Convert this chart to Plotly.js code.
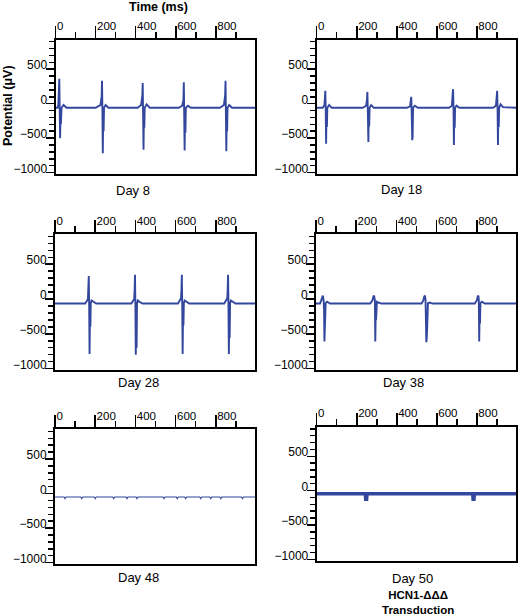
<!DOCTYPE html>
<html>
<head>
<meta charset="utf-8">
<script src="https://cdn.plot.ly/plotly-3.0.1.min.js"></script>
<style>html,body{margin:0;padding:0;background:#fff;}#chart{width:519px;height:616px;}</style>
</head>
<body>
<div id="chart"></div>
<script>
// ---- data (time in ms, potential in µV) ----
var day8_t = [0,10,14,17,19,21,23,25,27,30,40,55,
  200,224,230,232,234,236,238,240,242,250,264,
  410,427,433,435,437,439,441,443,445,455,470,
  615,632,638,640,642,644,646,648,650,660,675,
  820,840,846,848,850,852,854,856,858,866,880,995];
var day8_v = [-60,-60,-20,150,360,-100,-500,-150,-300,-60,-20,-60,
  -60,-20,100,330,-100,-720,-150,-400,-60,-20,-60,
  -60,-20,120,300,-100,-670,-150,-350,-60,-10,-60,
  -60,-30,50,310,-100,-680,-150,-420,-60,-30,-60,
  -60,-20,120,330,-100,-690,-150,-400,-60,-20,-60,-60];

var day18_t = [0,30,39,41,43,45,47,49,51,53,62,75,
  230,247,251,253,255,258,260,262,264,272,285,
  450,466,470,472,474,475,477,479,481,490,505,
  660,675,679,681,683,685,687,689,691,698,712,
  880,895,899,901,903,905,907,909,911,918,930,995];
var day18_v = [-60,-60,-20,120,185,-80,-580,-150,-340,-60,-20,-60,
  -60,-30,60,170,-80,-555,-150,-330,-60,-20,-60,
  -60,-40,20,100,-100,-500,-530,-480,-60,-30,-60,
  -60,-30,150,210,-80,-600,-150,-350,-60,-30,-60,
  -60,-30,120,185,-80,-600,-150,-340,-60,-10,-50,-60];

var day28_t = [0,150,160,164,166,168,170,172,174,176,178,182,190,205,
  380,390,394,396,398,400,402,404,406,408,412,420,435,
  612,623,627,629,631,633,635,637,639,641,645,653,668,
  842,853,857,859,861,863,865,867,869,871,875,883,898,995];
var day28_v = [-65,-65,-20,0,170,330,-100,-790,-200,-400,-60,-20,-40,-65,
  -65,-20,0,120,350,-100,-800,-200,-700,-60,-20,-40,-65,
  -65,-20,10,120,350,-100,-790,-200,-380,-60,-20,-40,-65,
  -65,-20,10,130,350,-100,-790,-200,-560,-60,-20,-40,-65,-65];

var day38_t = [0,20,26,30,34,38,40,42,44,46,48,55,70,
  270,281,285,289,293,295,297,299,301,303,310,325,
  525,534,538,542,545,547,549,551,553,555,557,565,580,
  790,800,804,808,810,812,814,816,818,825,840,995];
var day38_v = [-65,-65,-20,30,50,-20,-150,-610,-200,-350,-60,-40,-65,
  -65,-20,30,50,-20,-610,-200,-300,-60,-40,-50,-65,
  -65,-20,30,50,-20,-450,-620,-560,-420,-300,-60,-50,-65,
  -65,-20,30,50,-20,-610,-200,-350,-60,-40,-65,-65];

var day48_t = [0,45,50,55,128,133,138,195,200,205,287,292,297,353,358,363,
  403,408,413,537,542,547,603,608,613,645,650,655,720,725,730,
  770,775,780,820,825,830,928,933,938,995];
var day48_v = [-50,-50,-75,-50,-50,-75,-50,-50,-75,-50,-50,-75,-50,-50,-75,-50,
  -50,-75,-50,-50,-75,-50,-50,-75,-50,-50,-75,-50,-50,-75,-50,
  -50,-75,-50,-50,-75,-50,-50,-75,-50,-50];

var day50_t = [0,243,245,249,251,779,781,785,787,995];
var day50_v = [-45,-45,-125,-125,-45,-45,-125,-125,-45,-45];

var captions = ['Day 8','Day 18','Day 28','Day 38','Day 48','Day 50'];
var yTickVals = [-1000,-500,0,500];
var yTickText = ['\u22121000','\u2212500','0','500'];
var xTickVals = [0,200,400,600,800];
var xTickText = ['0\u00a0\u00a0\u00a0\u00a0','200','400','600','800'];

// ---- drawing ----
var W = 519, H = 616;
var blue = '#33479e';
var series = [[day8_t,day8_v,1.9],[day18_t,day18_v,1.9],[day28_t,day28_v,1.9],
              [day38_t,day38_v,1.9],[day48_t,day48_v,1.1],[day50_t,day50_v,3.6]];
// panel boxes in pixels: [x0,x1,y0(top),y1(bottom)]
var boxes = [[55.5,255,39.5,174],[316.7,516,39.5,174],
             [55,255,234.3,370],[316,516,234.3,370],
             [55,255,429.3,564],[316.7,516,426.7,560.7]];
var capPos = [[133,190],[401.7,189],[138,382.7],[403.3,382.7],[138,577.3],[412.3,578.3]];

var traces = [];
var layout = {
  width: W, height: H,
  margin: {l:0,r:0,t:0,b:0},
  paper_bgcolor: '#fff', plot_bgcolor: '#fff',
  showlegend: false,
  font: {family: 'Liberation Sans, Arial, sans-serif', color: '#000'},
  annotations: []
};
series.forEach(function(s, i){
  var n = i + 1;
  var xa = 'x' + (n === 1 ? '' : n), ya = 'y' + (n === 1 ? '' : n);
  traces.push({x: s[0], y: s[1], type: 'scatter', mode: 'lines',
    line: {color: blue, width: s[2]}, xaxis: xa, yaxis: ya, hoverinfo: 'skip'});
  var b = boxes[i];
  layout['xaxis' + (n === 1 ? '' : n)] = {
    domain: [b[0]/W, b[1]/W], range: [0, 995], anchor: ya, side: 'top',
    showgrid: false, zeroline: false, showline: true, mirror: true,
    linecolor: '#000', linewidth: 2,
    ticks: 'outside', ticklen: 12, tickwidth: 1.5, tickcolor: '#000',
    tickvals: xTickVals, ticktext: xTickText,
    tickfont: {size: 11.5, family: 'Liberation Sans, Arial, sans-serif', color: '#000'},
    ticklabelshift: 11, ticklabelstandoff: -9,
    minor: {dtick: 100, tick0: 0, ticks: 'outside', ticklen: 6, tickwidth: 1.5, tickcolor: '#000', showgrid: false},
    fixedrange: true
  };
  layout['yaxis' + (n === 1 ? '' : n)] = {
    domain: [1 - b[3]/H, 1 - b[2]/H], range: [-1020, 930], anchor: xa,
    showgrid: false, zeroline: false, showline: true, mirror: true,
    linecolor: '#000', linewidth: 2,
    ticks: 'outside', ticklen: 8, tickwidth: 1.5, tickcolor: '#000',
    tickvals: yTickVals, ticktext: yTickText,
    tickfont: {size: 12, family: 'Liberation Sans, Arial, sans-serif', color: '#000'},
    ticklabelshift: -4, ticklabelstandoff: -4,
    minor: {dtick: 100, tick0: 0, ticks: 'outside', ticklen: 5, tickwidth: 1.5, tickcolor: '#000', showgrid: false},
    fixedrange: true
  };
  layout.annotations.push({text: captions[i], xref: 'paper', yref: 'paper',
    x: capPos[i][0]/W, y: 1 - capPos[i][1]/H, xanchor: 'center', yanchor: 'middle',
    showarrow: false, font: {size: 13, color: '#000'}});
});
layout.annotations.push({text: '<b>Time (ms)</b>', xref: 'paper', yref: 'paper',
  x: 158/W, y: 1 - 7/H, xanchor: 'center', yanchor: 'middle', showarrow: false,
  font: {size: 12.5, color: '#000'}});
layout.annotations.push({text: '<b>Potential (\u03bcV)</b>', xref: 'paper', yref: 'paper',
  x: 8/W, y: 1 - 106/H, xanchor: 'center', yanchor: 'middle', showarrow: false,
  textangle: -90, font: {size: 12.5, color: '#000'}});
layout.annotations.push({text: '<b>HCN1-\u0394\u0394\u0394</b><br><b>Transduction</b>', xref: 'paper', yref: 'paper',
  x: 418/W, y: 1 - 602.5/H, xanchor: 'center', yanchor: 'middle', showarrow: false,
  align: 'center', font: {size: 11.5, color: '#000'}});

Plotly.newPlot('chart', traces, layout, {staticPlot: true, displayModeBar: false});
</script>
</body>
</html>
